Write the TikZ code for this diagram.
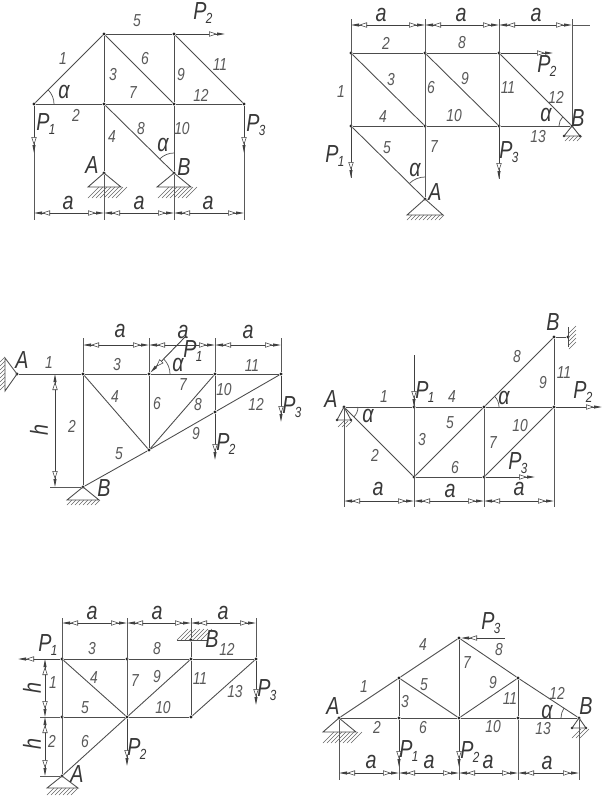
\documentclass[tikz,border=0pt]{standalone}
\usepackage{fontspec}
\setmainfont{Liberation Sans}[ItalicFeatures={FakeStretch=0.8}]
\usetikzlibrary{arrows.meta}
\newcommand{\Pp}[1]{P\kern-0.5pt\raisebox{-0.35ex}{\fontsize{11}{11}\selectfont #1}}
\newcommand{\hatchH}[4]{\foreach \i in {0,...,#2}{\draw[hatchline] ({#1+\i*4},{#3+#4}) -- ++(#4,-#4);}}
\newcommand{\hatchV}[4]{\foreach \i in {0,...,#3}{\draw[hatchline] (#1,{#2+\i*4}) -- ++(#4,-#4);}}
\tikzset{
  harr/.tip={Triangle[open,fill=white,length=6pt,width=4pt,line width=0.4pt] Triangle[length=6pt,width=2.2pt]},
  jt/.style={circle,fill=black!85,inner sep=0pt,minimum size=2.6pt},
  member/.style={draw=black!70,line width=0.65pt},
  thinline/.style={draw=black!65,line width=0.55pt},
  hatchline/.style={draw=black!60,line width=0.4pt},
  load/.style={draw=black!75,line width=0.65pt,-{harr}},
  dimarrow/.style={draw=black!75,line width=0.65pt,{harr}-{harr}},
  num/.style={font=\fontsize{13}{13}\selectfont\itshape,text=black!65,inner sep=0pt},
  big/.style={font=\fontsize{18.5}{18.5}\selectfont\itshape,text=black!78,inner sep=0pt},
}
\begin{document}
\begin{tikzpicture}[x=0.75pt,y=-0.75pt]
\useasboundingbox (0,0) rectangle (602,797);
\fill[white] (0,0) rectangle (602,797);
% ---------- joints
\foreach \n/\x/\y in {
 aL/34/104,aT/104/34,aU/174/34,aM/104/104,aN/174/104,aR/244/104,aA/104/173,aB/174/173,
 bJ/351/53,bK/425/53,bL/499/53,bM/351/126,bN/425/126,bO/499/126,bB/572/126,bA/425/199,
 cA/17/374,cJ/83/374,cK/149/374,cL/215/374,cM/281/374,cN/149/450,cO/215/412,cB/83/487,
 dA/344/407,dJ/414/407,dK/484/407,dL/554/407,dB/554/337,dM/414/477,dN/484/477,dW/568/337,
 eA/62/776,eJ/62/659,eK/127/659,eL/191/659,eM/256/659,eN/62/717,eO/127/717,eP/191/717,eB/191/640,
 fA/339/718,fC/399/678,fD/459/638,fE/518/678,fB/579/718,fF/399/718,fG/459/718,fH/518/718}
 {\node[jt] (\n) at (\x,\y) {};}
% ---------- free ends of load arrows, extension lines and dimension lines
\foreach \n/\x/\y in {
 aPa/34/153,aPb/225/34,aPc/244/153,aFa/34/220,aFb/104/220,aFc/174/220,aFd/244/220,
 aDa/34/213,aDb/104/213,aDc/174/213,aDd/244/213,
 bPa/351/178,bPb/553/53,bPc/499/179,bFa/351/19,bFb/425/19,bFc/499/19,bFd/572/19,
 bDa/351/25,bDb/425/25,bDc/499/25,bDd/572/25,bDe/590/25,
 cPa/186/336,cPb/215/460,cPc/281/422,cFa/83/338,cFb/149/338,cFc/215/338,cFd/281/338,
 cDa/83/345,cDb/149/345,cDc/215/345,cDd/281/345,cHa/55/374,cHb/55/487,cHc/50/487,
 dPa/414/355,dPb/602/407,dPc/535/477,dFa/344/507,dFb/414/507,dFc/484/507,dFd/554/507,
 dDa/344/501,dDb/414/501,dDc/484/501,dDd/554/501,dPt/414/407,
 ePa/18/659,ePb/127/766,ePc/256/705,eFa/62/618,eFb/127/618,eFc/191/618,eFd/256/618,
 eDa/62/623,eDb/127/623,eDc/191/623,eDd/256/623,
 eHa/45/659,eHb/45/717,eHc/45/776,eEa/40/717,eEb/40/776,
 fPa/399/767,fPb/459/767,fPc/505/638,fFa/339/780,fFb/399/780,fFc/459/780,fFd/518/780,fFe/579/780,
 fDa/339/773,fDb/399/773,fDc/459/773,fDd/518/773,fDe/579/773}
 {\coordinate (\n) at (\x,\y);}
% ---------- truss members
\foreach \u/\v in {
 aL/aT,aT/aU,aT/aM,aT/aN,aU/aN,aU/aR,aL/aM,aM/aN,aN/aR,aM/aA,aM/aB,aN/aB,
 bJ/bK,bK/bL,bJ/bM,bJ/bN,bK/bN,bK/bO,bL/bO,bL/bB,bM/bN,bN/bO,bO/bB,bM/bA,bN/bA,
 cA/cJ,cJ/cK,cK/cL,cL/cM,cJ/cB,cJ/cN,cK/cN,cB/cN,cN/cO,cO/cM,cN/cL,cL/cO,
 dA/dJ,dJ/dK,dK/dL,dA/dM,dJ/dM,dM/dK,dK/dB,dL/dB,dM/dN,dK/dN,dN/dL,dB/dW,
 eJ/eK,eK/eL,eL/eM,eJ/eN,eN/eA,eJ/eO,eN/eO,eA/eO,eK/eO,eO/eL,eO/eP,eL/eP,eP/eM,eL/eB,
 fA/fC,fC/fD,fD/fE,fE/fB,fA/fF,fF/fG,fG/fH,fH/fB,fC/fF,fC/fG,fD/fG,fG/fE,fE/fH}
 {\draw[member] (\u) -- (\v);}
% ---------- extension lines
\foreach \u/\v in {
 aL/aFa,aA/aFb,aB/aFc,aR/aFd,
 bFa/bPa,bFb/bA,bFc/bPc,bFd/bB,
 cFa/cJ,cFb/cK,cFc/cL,cFd/cM,cHc/cB,
 dA/dFa,dPa/dFb,dK/dFc,dL/dFd,
 eFa/eA,eFb/eO,eFc/eB,eFd/eM,eEa/eN,eEb/eA,
 fA/fFa,fF/fFb,fG/fFc,fH/fFd,fB/fFe}
 {\draw[thinline] (\u) -- (\v);}
% ---------- loads
\foreach \u/\v in {
 aL/aPa,aU/aPb,aR/aPc,
 bM/bPa,bL/bPb,bO/bPc,
 cPa/cK,cO/cPb,cM/cPc,
 dPa/dPt,dL/dPb,dN/dPc,
 eJ/ePa,eO/ePb,eM/ePc,
 fF/fPa,fG/fPb,fPc/fD}
 {\draw[load] (\u) -- (\v);}
% ---------- dimension lines
\foreach \u/\v in {
 aDa/aDb,aDb/aDc,aDc/aDd,
 bDa/bDb,bDb/bDc,bDc/bDd,
 cDa/cDb,cDb/cDc,cDc/cDd,cHa/cHb,
 dDa/dDb,dDb/dDc,dDc/dDd,
 eDa/eDb,eDb/eDc,eDc/eDd,eHa/eHb,eHb/eHc,
 fDa/fDb,fDb/fDc,fDc/fDd,fDd/fDe}
 {\draw[dimarrow] (\u) -- (\v);}
\draw[thinline] (bDd) -- (bDe);
% ---------- fixed supports
\foreach \n/\l/\r/\h in {aA/16/17/14,aB/17/17/14,bA/18/18/16,cB/16/16/13,eA/15/16/12,fA/16/17/14}
 {\draw[member] (\n.center) -- ++(-\l,\h) -- ++({\l+\r},0) -- cycle;}
\hatchH{88}{7}{187}{11}
\hatchH{158}{7}{187}{11}
\hatchH{407}{8}{215}{5}
\hatchH{67}{7}{500}{5}
\hatchH{47}{6}{788}{7}
\hatchH{323}{7}{732}{11}
% wall supports
\draw[member] (cA.center) -- (5,358) -- (5,391) -- cycle;
\hatchV{0}{362}{7}{5}
\draw[member] (177,640) -- (208,640);
\hatchH{177}{6}{629}{11}
\draw[member] (568,327) -- (568,347);
\hatchV{569}{333}{4}{7}
% ---------- roller supports
\foreach \n/\h/\w in {bB/10/8,dA/13/7,fB/10/7}
 {\draw[member] (\n.center) -- ++(-\w,\h) -- ++({2*\w},0) -- cycle;
  \fill[black!80] (\n.center) ++(-\w,\h) circle[radius=1.3];
  \fill[black!80] (\n.center) ++(\w,\h) circle[radius=1.3];}
\hatchH{565}{3}{136}{5}
\hatchH{338}{2}{421}{6}
\hatchH{572}{2}{729}{9}
% ---------- angle arcs
\draw[thinline] (aL.center) ++(0:20) arc[start angle=0,end angle=-45,radius=20];
\draw[thinline] (aB.center) ++(-90:20) arc[start angle=-90,end angle=-135,radius=20];
\draw[thinline] (bB.center) ++(180:13) arc[start angle=180,end angle=225,radius=13];
\draw[thinline] (bA.center) ++(-90:22) arc[start angle=-90,end angle=-135,radius=22];
\draw[thinline] (cK.center) ++(0:21) arc[start angle=0,end angle=-45,radius=21];
\draw[thinline] (dA.center) ++(0:14) arc[start angle=0,end angle=45,radius=14];
\draw[thinline] (dK.center) ++(0:15) arc[start angle=0,end angle=-45,radius=15];
\draw[thinline] (fB.center) ++(180:18) arc[start angle=180,end angle=213,radius=18];
% ---------- member numbers
\foreach \x/\y/\t in {
 137/21/5,63/59/1,145/59/6,220/65/11,113/75/3,181/75/9,133/93/7,201/95/12,76/115/2,141/129/8,112/137/4,182/129/10,
 386/43/2,462/43/8,391/80/3,465/79/9,431/88/6,508/88/11,556/97/12,341/92/1,383/117/4,454/116/10,538/137/13,387/148/5,434/147/7,
 49/363/1,117/365/3,252/366/11,183/385/7,224/390/10,115/397/4,157/404/6,198/405/8,256/404/12,72/426/2,196/434/9,119/454/5,
 384/397/1,452/397/4,517/357/8,564/373/11,543/383/9,375/455/2,422/440/3,450/423/5,493/443/7,520/426/10,455/468/6,
 92/649/3,157/649/8,227/649/12,53/683/1,94/678/4,135/681/7,157/677/9,200/679/11,235/692/13,85/708/5,163/708/10,52/741/2,85/742/6,
 423/645/4,499/650/8,467/663/7,364/687/1,424/685/5,493/683/9,405/702/3,510/699/11,557/693/12,377/727/2,423/728/6,493/727/10,543/729/13}
 {\node[num] (n\x-\y) at (\x,\y) {\t};}
% ---------- letters
\foreach \x/\y/\t in {
 203/13/\Pp{2},46/124/\Pp{1},256/125/\Pp{3},64/92/α,163/145/α,92/165/A,184/167/B,68/203/a,139/203/a,208/203/a,
 381/15/a,461/15/a,536/15/a,547/66/\Pp{2},546/115/α,578/118/B,335/156/\Pp{1},509/152/\Pp{3},415/170/α,435/192/A,
 120/331/a,183/332/a,248/332/a,22/360/A,193/351/\Pp{1},178/365/α,292/407/\Pp{3},226/444/\Pp{2},104/488/B,
 331/399/A,425/392/\Pp{1},504/398/α,583/392/\Pp{2},553/322/B,368/416/α,518/463/\Pp{3},378/489/a,450/491/a,519/489/a,
 92/613/a,157/613/a,223/613/a,48/645/\Pp{1},212/639/B,267/690/\Pp{3},137/749/\Pp{2},77/774/A,
 491/623/\Pp{3},333/706/A,547/712/α,586/706/B,409/751/\Pp{1},429/762/a,470/752/\Pp{2},488/762/a,371/762/a,547/763/a}
 {\node[big] (t\x-\y) at (\x,\y) {\t};}
\foreach \x/\y in {39/430,32/688,32/744}
 {\node[big,rotate=90] (h\x-\y) at (\x,\y) {h};}
\end{tikzpicture}
\end{document}
